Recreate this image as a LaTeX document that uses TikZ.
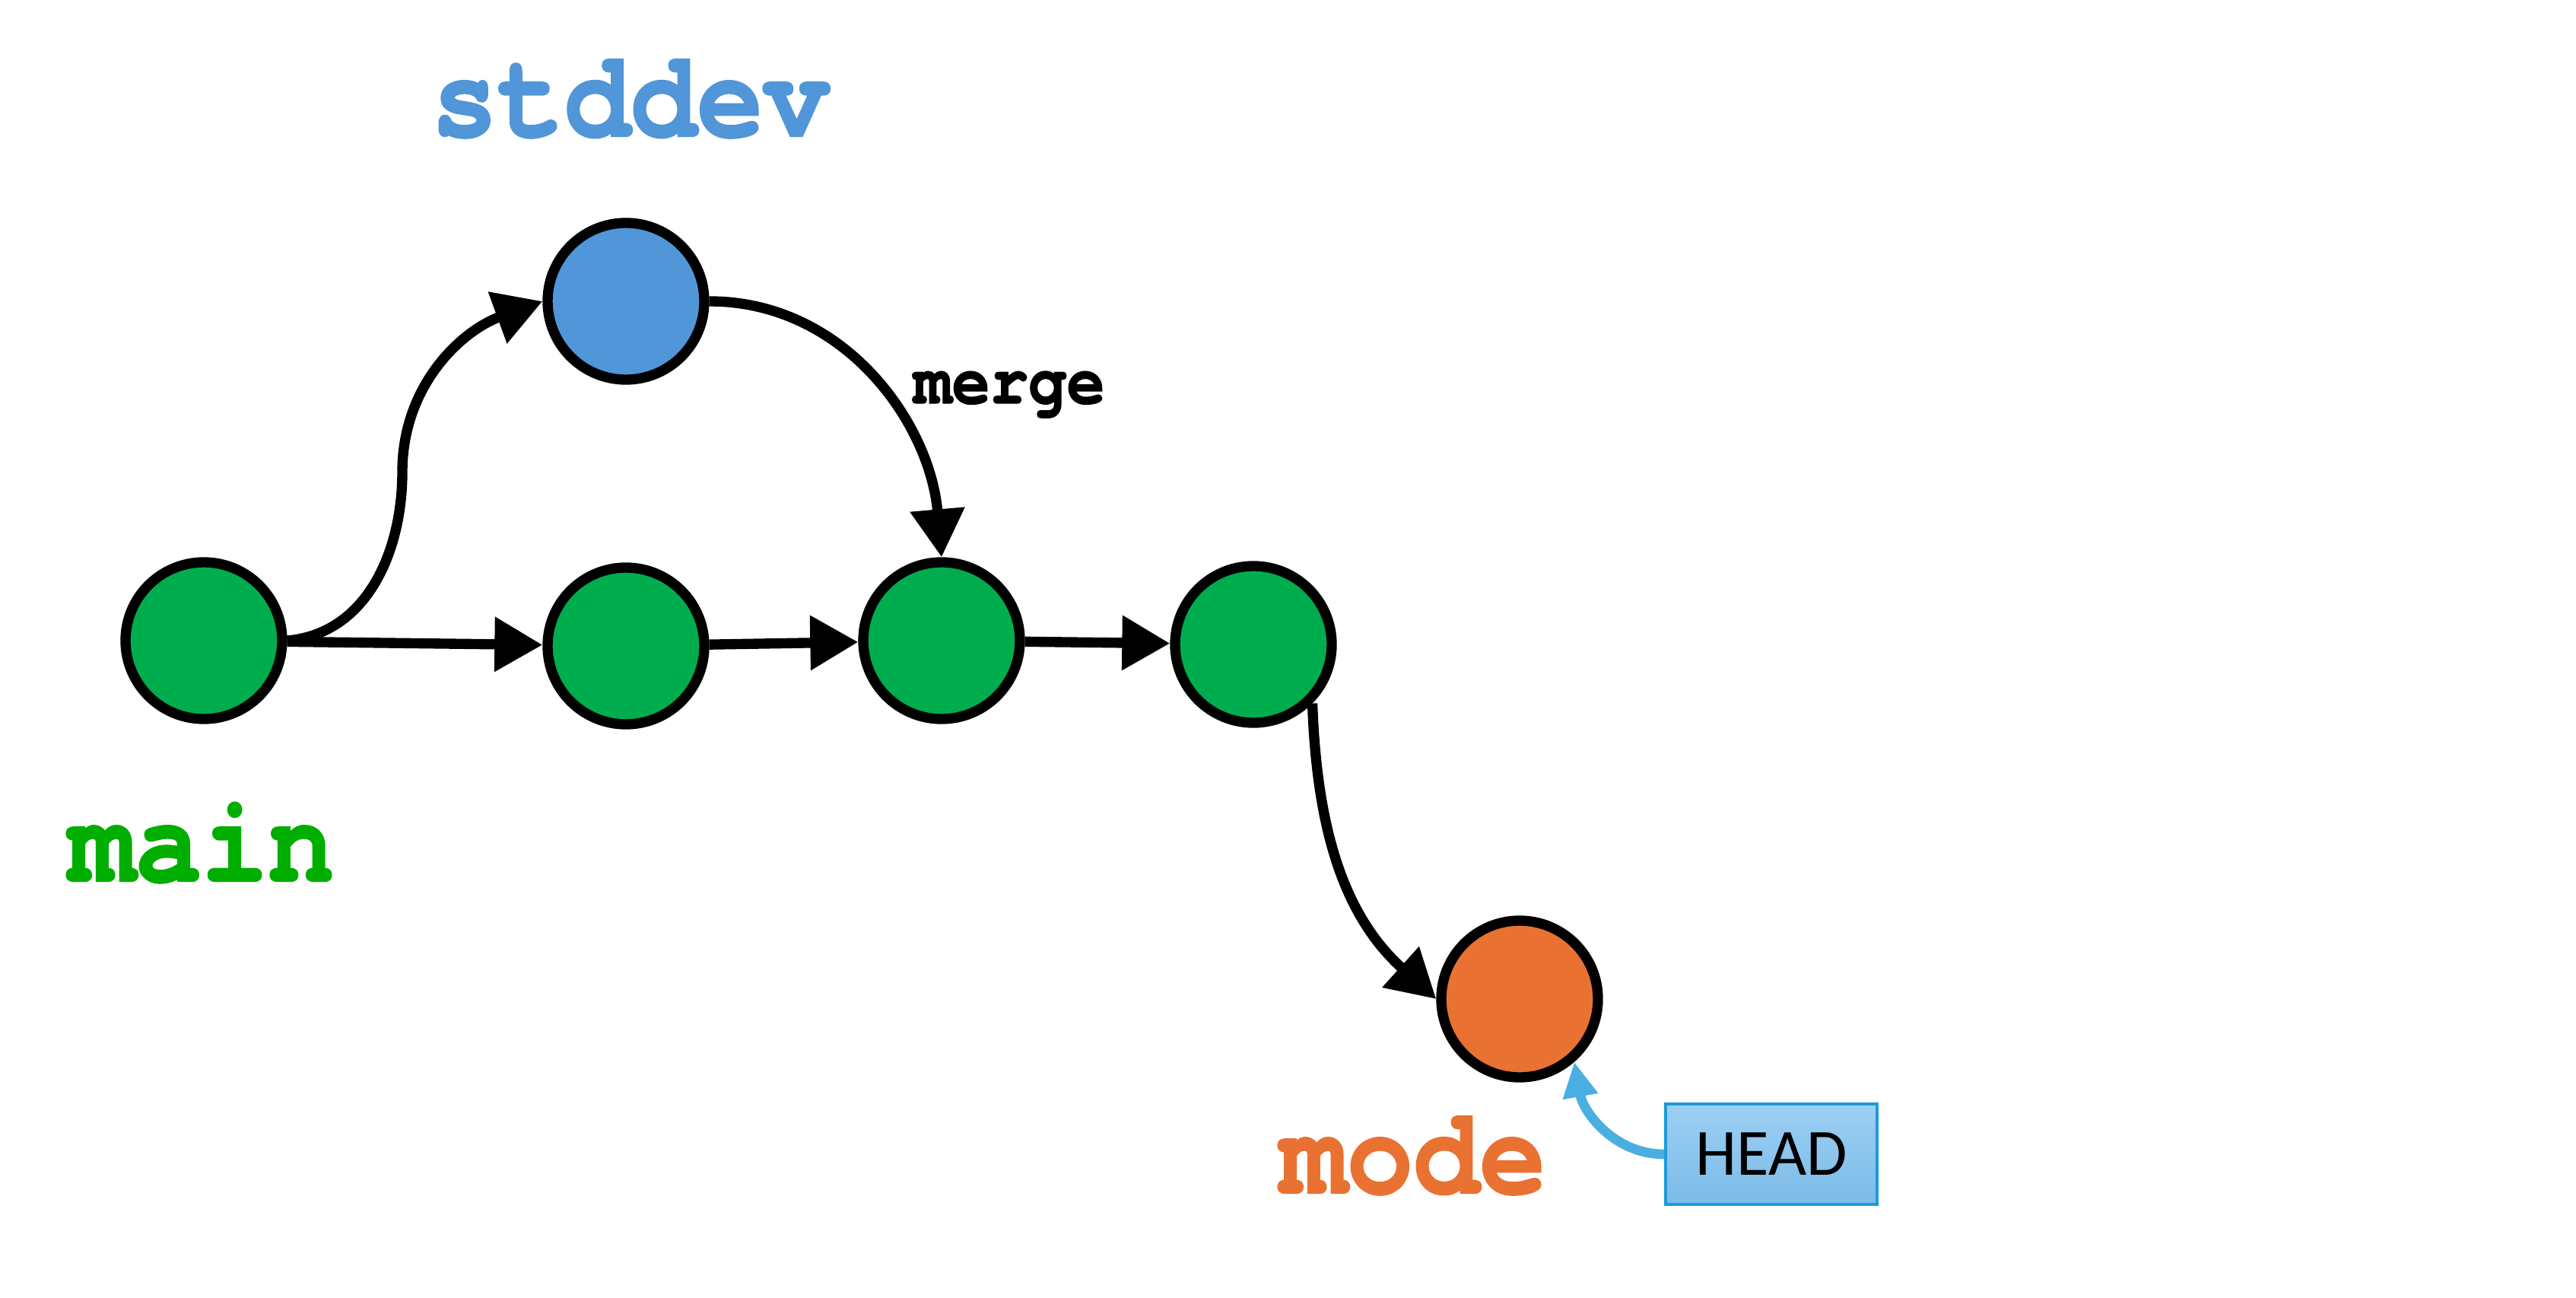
\documentclass[tikz,border=0pt]{standalone}
\usepackage{fontspec}
\usepackage{xcolor}
\usepackage{tikz}
\usetikzlibrary{positioning, arrows.meta}

\setsansfont{Carlito}
\newfontfamily\gitfont{texgyrecursor-bold.otf}[FakeStretch=0.9, FakeBold=1.5]

\definecolor{commitgreen}{HTML}{00AD4E}
\definecolor{commitblue}{HTML}{5096D8}
\definecolor{commitorange}{HTML}{E97233}
\definecolor{labelgreen}{HTML}{00AE00}
\definecolor{headtop}{HTML}{9DCFF3}
\definecolor{headbottom}{HTML}{7BBBE8}
\definecolor{headborder}{HTML}{1E9BD7}
\definecolor{headarrow}{HTML}{4AAFE0}

\begin{document}
\begin{tikzpicture}[
    commit/.style={circle, draw=black, line width=3.8pt, minimum size=2.06cm, inner sep=0pt},
    link/.style={line width=3.8pt, -{Triangle[length=6.3mm, width=6.9mm]}},
    branch/.style={anchor=base, inner sep=0pt, font=\gitfont\fontsize{46pt}{46pt}\selectfont},
    headbox/.style={rectangle, draw=headborder, line width=1.2pt, top color=headtop, bottom color=headbottom,
      minimum width=2.78cm, minimum height=1.32cm, inner sep=0pt, font=\sffamily\fontsize{24.7pt}{24.7pt}\selectfont},
    headlink/.style={headarrow, line width=3.6pt, -{Triangle[length=4.6mm, width=4.4mm]}}
  ]
  \useasboundingbox (0,0) rectangle (33.87,17.05);

  % commits
  \foreach \n/\x/\y in {c1/2.68/8.63, c2/8.23/8.56, c3/12.38/8.63, c4/16.48/8.58} {
    \node[commit, fill=commitgreen] (\n) at (\x,\y) {};
  }
  \node[commit, fill=commitblue] (dev) at (8.23,13.09) {};
  \node[commit, fill=commitorange] (mod) at (19.98,3.92) {};

  % branch names
  \node[branch, text=commitblue] (devlabel) at (8.29,15.26) {stddev};
  \node[branch, text=labelgreen] (mainlabel) at (2.65,5.47) {main};
  \node[branch, text=commitorange] (modlabel) at (18.58,1.37) {mode};
  \node[anchor=base, inner sep=0pt, font=\gitfont\fontsize{26.5pt}{26.5pt}\selectfont] (mergelabel) at (13.27,11.75) {merge};

  \node[headbox] (head) at (23.29,1.88) {HEAD};

  % history
  \foreach \a/\b in {c1/c2, c2/c3, c3/c4} {
    \draw[link] (\a) -- (\b);
  }
  \coordinate (fork) at (5.29,10.85);
  \draw[link] (c1.east) to[out=5, in=-90] (fork) to[out=90, in=200] (dev.west);
  \draw[link] (dev.east) to[out=0, in=95] (c3.north);
  \draw[link] (c4.-45) to[out=-88, in=138] (mod.west);

  \draw[headlink] (head.west) to[out=180, in=-80] (mod.-49);
\end{tikzpicture}
\end{document}
